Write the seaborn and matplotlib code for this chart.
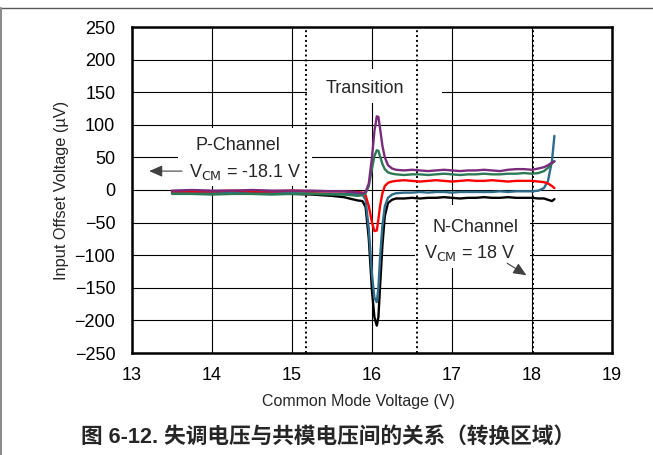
import numpy as np
import pandas as pd
import matplotlib
matplotlib.use("Agg")
import matplotlib.pyplot as plt
from matplotlib.lines import Line2D
from matplotlib.patches import Rectangle
import seaborn as sns

# ---------------- data ----------------
vcm = [13.50, 13.75, 14.00, 14.25, 14.50, 14.75, 15.00, 15.25, 15.50, 15.65, 15.75, 15.82,
       15.88, 15.92, 15.96, 16.00, 16.03, 16.06, 16.08, 16.10, 16.13, 16.16, 16.20, 16.25,
       16.30, 16.40, 16.50, 16.60, 16.70, 16.80, 16.90, 17.00, 17.10, 17.20, 17.30, 17.40,
       17.50, 17.60, 17.70, 17.80, 17.90, 18.00,
       18.08, 18.15, 18.20, 18.25, 18.28]

purple = [-1, 0, -1, -1, 0, -1, -1, -1, -2, -2, -3, -4,
          -5, -3, 10, 50, 90, 113, 112, 95, 68, 50, 38, 33,
          31, 30, 31, 30, 29, 30, 31, 30, 29, 30, 30, 31, 30, 29, 31, 32, 32, 31,
          33, 35, 38, 42, 44]
green = [-6, -6, -7, -6, -6, -7, -6, -6, -7, -7, -8, -9,
         -8, -5, 6, 33, 52, 61, 60, 52, 40, 32, 27, 25,
         24, 23, 24, 24, 23, 24, 25, 24, 23, 24, 24, 25, 24, 24, 25, 25, 26, 25,
         26, 29, 34, 41, 44]
red = [-2, -2, -2, -1, -2, -2, -1, -2, -2, -2, -3, -3,
       -4, -8, -25, -50, -63, -62, -45, -25, -5, 6, 11, 13,
       14, 15, 14, 13, 14, 15, 14, 13, 14, 15, 14, 14, 15, 14, 13, 14, 14, 14,
       13, 12, 10, 6, 3]
blue = [-4, -4, -5, -4, -5, -5, -5, -5, -6, -6, -6, -6,
        -7, -15, -60, -130, -165, -172, -150, -105, -55, -25, -12, -7,
        -5, -4, -4, -3, -4, -3, -3, -4, -3, -3, -3, -3, -3, -2, -3, -2, -2, -2,
        -1, 3, 14, 45, 83]
black = [-4, -4, -4, -5, -5, -5, -6, -7, -9, -11, -14, -16,
         -17, -26, -75, -155, -195, -208, -195, -150, -85, -40, -20, -15,
         -13, -13, -12, -13, -12, -12, -11, -12, -13, -12, -12, -11, -12, -12, -11, -12, -12, -12,
         -13, -13, -15, -17, -14]

series_names = ["black", "blue", "red", "green", "purple"]
series_vals = [black, blue, red, green, purple]
series_colors = ["#000000", "#2E6C8C", "#FF0000", "#2C7A55", "#7A2C7C"]

boundaries = [15.18, 16.56, 18.01]
x_ticks = [13, 14, 15, 16, 17, 18, 19]
y_ticks = [250, 200, 150, 100, 50, 0, -50, -100, -150, -200, -250]

# ---------------- plot ----------------
sns.set_style("white")
plt.rcParams["font.family"] = ["Liberation Sans", "Noto Sans CJK SC", "DejaVu Sans"]
plt.rcParams["axes.unicode_minus"] = True

df = pd.concat([pd.DataFrame({"vcm": vcm, "vos": v, "series": n})
                for n, v in zip(series_names, series_vals)], ignore_index=True)

fig = plt.figure(figsize=(6.53, 4.55), dpi=100)
ax = fig.add_axes([132/653, 1-353/455, 480/653, 326/455])

sns.lineplot(data=df, x="vcm", y="vos", hue="series", hue_order=series_names,
             palette=dict(zip(series_names, series_colors)), linewidth=1.7,
             legend=False, ax=ax, zorder=4, sort=False, estimator=None)

ax.set_xlim(13, 19)
ax.set_ylim(-250, 250)
ax.set_xticks(x_ticks)
ax.set_yticks(y_ticks)
ax.grid(True, color="black", linewidth=0.8)
ax.set_axisbelow(True)
ax.tick_params(length=0, labelsize=13, colors="black")
ax.tick_params(axis="y", pad=12)
ax.tick_params(axis="x", pad=10)
for s in ax.spines.values():
    s.set_visible(True)
    s.set_color("black")
    s.set_linewidth(1.8)

for b in boundaries:
    ax.axvline(b, color="black", linestyle=(0, (1.0, 1.5)), linewidth=1.4, zorder=3)

ax.set_xlabel("Common Mode Voltage (V)", fontsize=11.5, labelpad=10)
ax.xaxis.set_label_coords(0.471, -0.125)
ax.set_ylabel("Input Offset Voltage (µV)", fontsize=11.8)
ax.yaxis.set_label_coords(-0.132, 0.5)

# white label panels that interrupt the grid (as in the reference)
for (x0, x1, y0, y1) in [(15.19, 16.87, 133, 186), (13.57, 15.25, 6, 95), (16.54, 17.98, -120, -23)]:
    ax.add_patch(Rectangle((x0, y0), x1 - x0, y1 - y0, facecolor="white",
                           edgecolor="none", zorder=1.5))

fs = 13
ax.text(15.91, 156, "Transition", fontsize=fs, ha="center", va="center", zorder=2)
ax.text(14.33, 69, "P-Channel", fontsize=fs, ha="center", va="center", zorder=2)
ax.text(14.42, 28, r"V$_{\mathrm{CM}}$ = -18.1 V", fontsize=fs, ha="center", va="center", zorder=2)
ax.text(17.30, -57, "N-Channel", fontsize=fs, ha="center", va="center", zorder=2)
ax.text(17.22, -97, r"V$_{\mathrm{CM}}$ = 18 V", fontsize=fs, ha="center", va="center", zorder=2)

ax.annotate("", xy=(13.18, 29), xytext=(13.66, 29),
            arrowprops=dict(arrowstyle="-|>,head_length=0.8,head_width=0.35",
                            color="0.25", lw=0.8), zorder=5)
ax.annotate("", xy=(17.96, -133), xytext=(17.66, -110),
            arrowprops=dict(arrowstyle="-|>,head_length=0.8,head_width=0.35",
                            color="0.25", lw=0.8), zorder=5)

fig.text(328/653, 1-437/455, "图 6-12. 失调电压与共模电压间的关系（转换区域）",
         fontsize=15.6, fontweight="bold", ha="center", va="center",
         family=["Liberation Sans", "Noto Sans CJK SC"])

fig.add_artist(Line2D([0, 1], [1-7.5/455, 1-7.5/455], color="0.35", lw=1.0,
                      transform=fig.transFigure))
fig.add_artist(Line2D([0.001, 0.001], [0, 1-7.5/455], color="0.55", lw=1.5,
                      transform=fig.transFigure))

fig.savefig("out.png", dpi=100)
